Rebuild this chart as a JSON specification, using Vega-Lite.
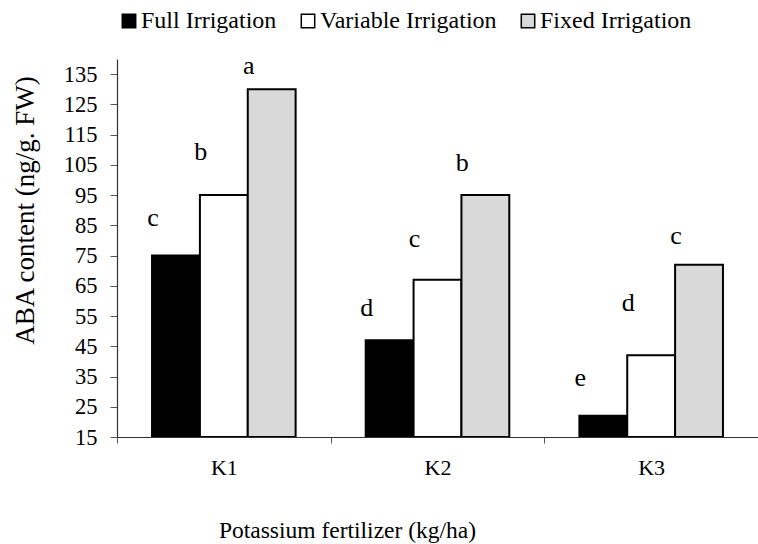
{
  "$schema": "https://vega.github.io/schema/vega-lite/v6.json",
  "autosize": "none",
  "padding": {"left": 117, "top": 59, "right": 0, "bottom": 107},
  "width": 641,
  "height": 378,
  "config": {
    "view": {"stroke": null},
    "font": "Liberation Serif",
    "axis": {"labelFont": "Liberation Serif", "titleFont": "Liberation Serif", "labelColor": "black", "titleColor": "black", "titleFontWeight": "normal", "grid": false},
    "legend": {"labelFont": "Liberation Serif", "labelColor": "black"}
  },
  "data": {
    "values": [
      {"group": "K1", "series": "Full Irrigation", "value": 75, "upper": 87.4, "letter": "c"},
      {"group": "K1", "series": "Variable Irrigation", "value": 95, "upper": 109.2, "letter": "b"},
      {"group": "K1", "series": "Fixed Irrigation", "value": 130, "upper": 137.6, "letter": "a"},
      {"group": "K2", "series": "Full Irrigation", "value": 47, "upper": 57.7, "letter": "d"},
      {"group": "K2", "series": "Variable Irrigation", "value": 67, "upper": 80.5, "letter": "c"},
      {"group": "K2", "series": "Fixed Irrigation", "value": 95, "upper": 105.6, "letter": "b"},
      {"group": "K3", "series": "Full Irrigation", "value": 22, "upper": 34.5, "letter": "e"},
      {"group": "K3", "series": "Variable Irrigation", "value": 42, "upper": 59.3, "letter": "d"},
      {"group": "K3", "series": "Fixed Irrigation", "value": 72, "upper": 81.5, "letter": "c"}
    ]
  },
  "encoding": {
    "x": {
      "field": "group", "type": "nominal",
      "scale": {"paddingInner": 0.328, "paddingOuter": 0.164},
      "axis": {
        "title": "Potassium fertilizer (kg/ha)",
        "titleFontSize": 23.5,
        "titleX": 230, "titleY": 93, "titleAlign": "center", "titleBaseline": "middle",
        "labelAngle": 0, "labelFontSize": 22, "labelPadding": 14,
        "tickOffset": -107, "labelOffset": 107,
        "tickSize": 6, "tickColor": "#555", "domainColor": "#333", "domainWidth": 1.2
      }
    },
    "xOffset": {"field": "series", "type": "nominal", "sort": ["Full Irrigation", "Variable Irrigation", "Fixed Irrigation"], "scale": {"paddingInner": 0, "paddingOuter": 0}}
  },
  "resolve": {"axis": {"y": "independent"}},
  "layer": [
    {
      "mark": {"type": "bar", "stroke": "black", "strokeWidth": 2, "clip": true},
      "encoding": {
        "y": {
          "field": "value", "type": "quantitative",
          "scale": {"domain": [15, 140], "nice": false, "zero": false},
          "axis": {
            "title": "ABA content (ng/g. FW)",
            "titleFontSize": 27,
            "titleX": -92, "titleY": 151, "titleAlign": "center", "titleBaseline": "middle", "titleAngle": -90,
            "values": [15, 25, 35, 45, 55, 65, 75, 85, 95, 105, 115, 125, 135],
            "labelOverlap": false,
            "labelFontSize": 22.5, "labelPadding": 13,
            "tickSize": 7, "tickColor": "#555", "domainColor": "#333", "domainWidth": 1.2
          }
        },
        "y2": {"datum": 15},
        "color": {
          "field": "series", "type": "nominal",
          "scale": {"domain": ["Full Irrigation", "Variable Irrigation", "Fixed Irrigation"], "range": ["black", "white", "#d9d9d9"]},
          "legend": {
            "title": null, "orient": "none", "direction": "horizontal",
            "legendX": 0, "legendY": -50,
            "symbolType": "square", "symbolSize": 180,
            "symbolStrokeColor": "black", "symbolStrokeWidth": 1.5,
            "labelFontSize": 24, "labelOffset": 0, "columnPadding": 19, "padding": 0, "labelLimit": 0
          }
        }
      }
    },
    {
      "mark": {"type": "text", "fontSize": 26, "dx": -23, "baseline": "middle", "color": "black", "font": "Liberation Serif"},
      "encoding": {
        "y": {"field": "upper", "type": "quantitative", "axis": null},
        "text": {"field": "letter"}
      }
    }
  ]
}
